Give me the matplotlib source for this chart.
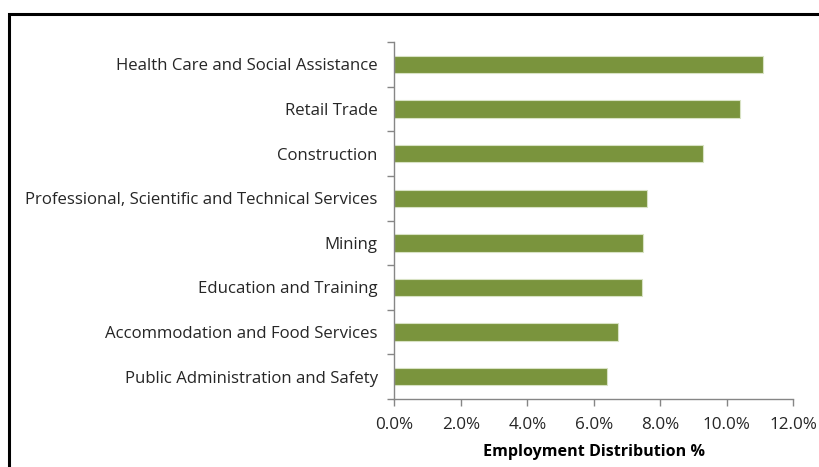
import matplotlib.pyplot as plt
from matplotlib.patches import Rectangle
from matplotlib.ticker import FuncFormatter

# Sectores y su distribucion de empleo (%)
sectores = ['Health Care and Social Assistance', 'Retail Trade', 'Construction',
            'Professional, Scientific and Technical Services', 'Mining',
            'Education and Training', 'Accommodation and Food Services',
            'Public Administration and Safety']
empleo = [11.10, 10.40, 9.27, 7.60, 7.47, 7.44, 6.74, 6.39]
xticks = [0, 2, 4, 6, 8, 10, 12]

plt.rcParams['font.family'] = ['Open Sans', 'DejaVu Sans']

fig = plt.figure(figsize=(8.19, 4.67), dpi=100)
ax = fig.add_axes([0.4815, 0.1456, 0.4871, 0.7644])

pos = list(range(len(sectores)))[::-1]
ax.barh(pos, empleo, height=0.39, color='#7a943d', edgecolor='#d8e2c4', linewidth=0.8)

ax.set_xlim(0, 12)
ax.set_ylim(-0.5, len(sectores) - 0.5)
ax.set_xticks(xticks)
ax.xaxis.set_major_formatter(FuncFormatter(lambda v, p: '%.1f%%' % v))
ax.set_yticks(pos)
ax.set_yticklabels(sectores)
ax.set_yticks([i - 0.5 for i in range(len(sectores) + 1)], minor=True)

for s in ['top', 'right']:
    ax.spines[s].set_visible(False)
for s in ['left', 'bottom']:
    ax.spines[s].set_color('#868686')
    ax.spines[s].set_linewidth(1.0)

ax.tick_params(axis='y', which='major', length=0, pad=12, labelsize=12.1, labelcolor='#262626')
ax.tick_params(axis='y', which='minor', length=5, color='#868686', width=1.0)
ax.tick_params(axis='x', length=5, color='#868686', width=1.0, labelsize=12.3,
               labelcolor='#262626', pad=8)

ax.set_xlabel('Employment Distribution %', fontsize=11.6, fontweight='bold',
              color='#000000', labelpad=8)

# Marco negro de la figura
fig.patches.append(Rectangle((9 / 819, -0.5), 1.5, 0.5 + 1 - 14 / 467,
                             transform=fig.transFigure, fill=False,
                             edgecolor='black', linewidth=2.2))

plt.savefig('out.png', dpi=100)
